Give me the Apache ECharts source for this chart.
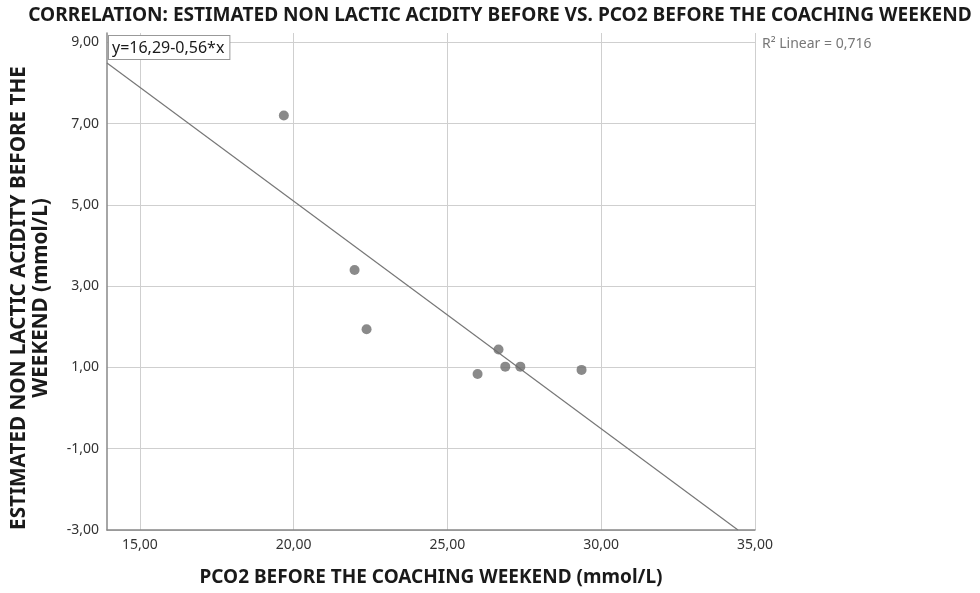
<!DOCTYPE html>
<html>
<head>
<meta charset="utf-8">
<script src="https://cdn.jsdelivr.net/npm/echarts@6/dist/echarts.min.js"></script>
<style>
html,body{margin:0;padding:0;background:#fff;}
#chart{width:980px;height:593px;}
</style>
</head>
<body>
<div id="chart"></div>
<script>
// Observations: PCO2 before (mmol/L) and estimated non lactic acidity before (mmol/L)
const pco2Before = [19.68, 21.98, 22.37, 26.66, 25.98, 26.88, 27.37, 29.36];
const acidityBefore = [7.20, 3.40, 1.94, 1.44, 0.84, 1.02, 1.02, 0.94];

// Linear fit y = a + b*x
const fitIntercept = 16.29;
const fitSlope = -0.56;
const rSquared = 0.716;

// Axis ticks
const xTicks = [15, 20, 25, 30, 35];
const yTicks = [-3, -1, 1, 3, 5, 7, 9];
const xRange = [13.93, 35];
const yRange = [-3, 9.23];

const fmt = v => v.toFixed(2).replace('.', ',');

// Fit line from the left edge down to the bottom of the plot
const xStart = xRange[0];
const xEnd = (yRange[0] - fitIntercept) / fitSlope;
const fitLine = [
  [xStart, fitIntercept + fitSlope * xStart],
  [xEnd, fitIntercept + fitSlope * xEnd]
];

const chart = echarts.init(document.getElementById('chart'));
const font = '"Noto Sans", "DejaVu Sans", sans-serif';

chart.setOption({
  animation: false,
  backgroundColor: '#fff',
  graphic: [
    {
      type: 'text', x: 500, y: 6,
      style: {
        text: 'CORRELATION: ESTIMATED NON LACTIC ACIDITY BEFORE VS. PCO2 BEFORE THE COACHING WEEKEND',
        fontFamily: font, fontSize: 19.1, fontWeight: 'bold', fill: '#1a1a1a',
        align: 'center', verticalAlign: 'top'
      }
    },
    {
      // vertical axis title, two centred lines
      type: 'text', x: 30, y: 298, rotation: Math.PI / 2,
      style: {
        text: 'ESTIMATED NON LACTIC ACIDITY BEFORE THE\nWEEKEND (mmol/L)',
        fontFamily: font, fontSize: 20.7, fontWeight: 'bold', fill: '#1a1a1a',
        lineHeight: 22, align: 'center', verticalAlign: 'middle'
      }
    },
    {
      type: 'text', left: 108, top: 35, z: 10,
      style: {
        text: 'y=' + fmt(fitIntercept) + '-' + fmt(Math.abs(fitSlope)) + '*x',
        fontFamily: font, fontSize: 16, fill: '#1a1a1a',
        backgroundColor: '#fff', borderColor: '#999', borderWidth: 1,
        padding: [4, 5, 3, 3]
      }
    },
    {
      type: 'text', left: 762, top: 37,
      style: {
        text: 'R² Linear = ' + rSquared.toFixed(3).replace('.', ','),
        fontFamily: font, fontSize: 14, fill: '#777'
      }
    }
  ],
  grid: { left: 107, right: 225, top: 33, bottom: 63, outerBoundsMode: 'none' },
  xAxis: {
    type: 'value', min: xRange[0], max: xRange[1],
    name: 'PCO2 BEFORE THE COACHING WEEKEND (mmol/L)',
    nameLocation: 'middle', nameGap: 38,
    nameTextStyle: { fontFamily: font, fontSize: 19, fontWeight: 'bold', color: '#1a1a1a' },
    axisLine: { show: true, onZero: false, lineStyle: { color: '#888', width: 1.5 } },
    axisTick: { show: false, customValues: xTicks },
    axisLabel: { customValues: xTicks, formatter: v => fmt(v), margin: 8,
      fontFamily: font, fontSize: 14, color: '#333' },
    splitLine: { show: true, lineStyle: { color: '#cfcfcf', width: 1 } }
  },
  yAxis: {
    type: 'value', min: yRange[0], max: yRange[1],
    axisLine: { show: true, onZero: false, lineStyle: { color: '#888', width: 1.5 } },
    axisTick: { show: false, customValues: yTicks },
    axisLabel: { customValues: yTicks, formatter: v => fmt(v), margin: 8,
      fontFamily: font, fontSize: 14, color: '#333' },
    splitLine: { show: true, lineStyle: { color: '#cfcfcf', width: 1 } }
  },
  series: [
    {
      type: 'line', data: fitLine, symbol: 'none', z: 2,
      lineStyle: { color: '#777', width: 1.2 }
    },
    {
      type: 'scatter', z: 3,
      data: pco2Before.map((x, i) => [x, acidityBefore[i]]),
      symbolSize: 10,
      itemStyle: { color: '#6d6d6d' }
    }
  ]
});
</script>
</body>
</html>
